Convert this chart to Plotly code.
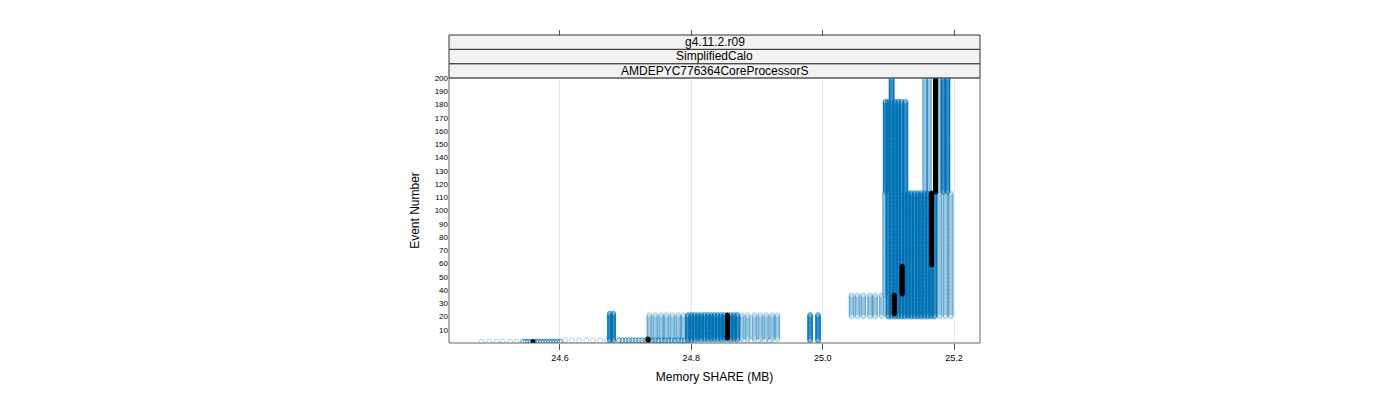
import plotly.graph_objects as go

# ======================================
# DATA
# ======================================

# blocks of runs: event range, memory columns (MB) and how many runs sit there
block_lo = [1, 1, 2, 2, 2, 2, 3, 3, 3, 2, 20, 20, 20, 36, 114, 183, 114, 114]
block_hi = [1, 1, 2, 2, 2, 22, 21, 21, 21, 21, 36, 113, 113, 113, 182, 200, 200, 200]
block_runs = [1, 3, 1, 3, 1, 3, 1, 3, 1, 3, 1, 3, 1, 1, 3, 3, 1, 3]
block_cols = [
    [24.481, 24.492, 24.503, 24.513, 24.524, 24.534],
    [24.544, 24.548, 24.552, 24.556, 24.560, 24.564, 24.568, 24.572,
     24.576, 24.580, 24.584, 24.588, 24.592, 24.596, 24.600],
    [24.608, 24.618, 24.629, 24.640, 24.650, 24.661, 24.672],
    [24.690, 24.695, 24.700, 24.705, 24.710, 24.715, 24.720, 24.725,
     24.730, 24.735, 24.740, 24.745, 24.750, 24.755, 24.760, 24.765,
     24.770, 24.775, 24.780, 24.785, 24.790, 24.795, 24.800],
    [24.806, 24.816, 24.827, 24.838, 24.848, 24.859, 24.870, 24.880,
     24.891, 24.902, 24.912, 24.920],
    [24.676, 24.681],
    [24.736, 24.745, 24.754, 24.762, 24.771, 24.780, 24.788],
    [24.795, 24.800, 24.805, 24.810, 24.815, 24.820, 24.825, 24.830,
     24.835, 24.840, 24.845, 24.850, 24.855, 24.860, 24.865, 24.870],
    [24.877, 24.886, 24.896, 24.905, 24.914, 24.923, 24.931],
    [24.981, 24.993],
    [25.044, 25.053, 25.062, 25.072, 25.080, 25.090],
    [25.100, 25.105, 25.110, 25.115, 25.120, 25.125, 25.130, 25.135,
     25.140, 25.145, 25.150, 25.155, 25.160, 25.165, 25.170],
    [25.178, 25.187, 25.195],
    [25.095],
    [25.096, 25.100, 25.105, 25.110, 25.115, 25.120, 25.126],
    [25.105],
    [25.156, 25.162, 25.178],
    [25.184, 25.190],
]

# median run (black)
med_lo = [1, 2, 4, 22, 37, 59, 114]
med_hi = [1, 3, 21, 36, 58, 113, 200]
med_x = [24.559, 24.734, 24.855, 25.109, 25.121, 25.166, 25.172]

strip_labels = ["g4.11.2.r09", "SimplifiedCalo", "AMDEPYC776364CoreProcessorS"]
x_ticks = [24.6, 24.8, 25.0, 25.2]
y_ticks = list(range(10, 201, 10))

# ======================================
# EXPAND BLOCKS TO POINTS
# ======================================

px, py = [], []
for lo, hi, n, cols in zip(block_lo, block_hi, block_runs, block_cols):
    for xv in cols:
        for ev in range(lo, hi + 1):
            px.extend([xv] * n)
            py.extend([ev] * n)

mx, my = [], []
for lo, hi, xv in zip(med_lo, med_hi, med_x):
    for ev in range(lo, hi + 1):
        mx.append(xv)
        my.append(ev)

fig = go.Figure()

fig.add_trace(go.Scatter(
    x=px, y=py, mode="markers",
    marker=dict(symbol="circle-open", size=5, color="rgb(0,114,178)",
                opacity=0.3, line=dict(width=1)),
    showlegend=False, hoverinfo="skip"
))

fig.add_trace(go.Scatter(
    x=mx, y=my, mode="markers",
    marker=dict(symbol="circle", size=5, color="black"),
    showlegend=False, hoverinfo="skip"
))

# top ticks (lattice style, above strips)
fig.add_trace(go.Scatter(x=[None], y=[None], xaxis="x2", showlegend=False))

# ======================================
# LAYOUT
# ======================================

x_range = [24.431, 25.2396]
dom_top = 265 / 314

shapes = []
edges = [dom_top, (343 - 63.7) / 314, (343 - 49.3) / 314, (343 - 35) / 314]
annotations = []
for i, lab in enumerate(reversed(strip_labels)):
    shapes.append(dict(type="rect", xref="paper", yref="paper",
                       x0=0, x1=1, y0=edges[i], y1=edges[i + 1],
                       fillcolor="#f2f2f2", line=dict(color="#333333", width=1),
                       layer="below"))
    annotations.append(dict(text=lab, xref="paper", yref="paper",
                            x=0.5, y=(edges[i] + edges[i + 1]) / 2,
                            showarrow=False, font=dict(size=12, color="black"),
                            xanchor="center", yanchor="middle"))
# panel box
shapes.append(dict(type="rect", xref="paper", yref="paper",
                   x0=0, x1=1, y0=0, y1=dom_top,
                   line=dict(color="#666666", width=1)))

# page body has an 8px margin, so margins are shifted to compensate
fig.update_layout(
    width=1400, height=400,
    margin=dict(l=441, r=428, t=21, b=65),
    paper_bgcolor="white", plot_bgcolor="white",
    font=dict(family="Liberation Sans, Arial, sans-serif", color="black"),
    xaxis=dict(
        range=x_range, domain=[0, 1], anchor="y",
        tickvals=x_ticks, ticktext=["24.6", "24.8", "25.0", "25.2"],
        ticks="outside", ticklen=6, tickcolor="#555555",
        tickfont=dict(size=9), showgrid=True, gridcolor="#e8e8e8",
        zeroline=False, showline=False,
        title=dict(text="Memory SHARE (MB)", font=dict(size=12), standoff=10)
    ),
    xaxis2=dict(
        range=x_range, overlaying="x", side="top", anchor="free",
        position=1.0, tickvals=x_ticks, showticklabels=False,
        ticks="inside", ticklen=6, tickcolor="#555555",
        showgrid=False, zeroline=False, showline=False
    ),
    yaxis=dict(
        range=[0, 200], domain=[0, dom_top],
        tickvals=y_ticks, ticks="", tickfont=dict(size=8),
        showgrid=False, zeroline=False, showline=False,
        title=dict(text="Event Number", font=dict(size=12), standoff=12)
    ),
    shapes=shapes,
    annotations=annotations,
)

fig.write_html("out.html")
